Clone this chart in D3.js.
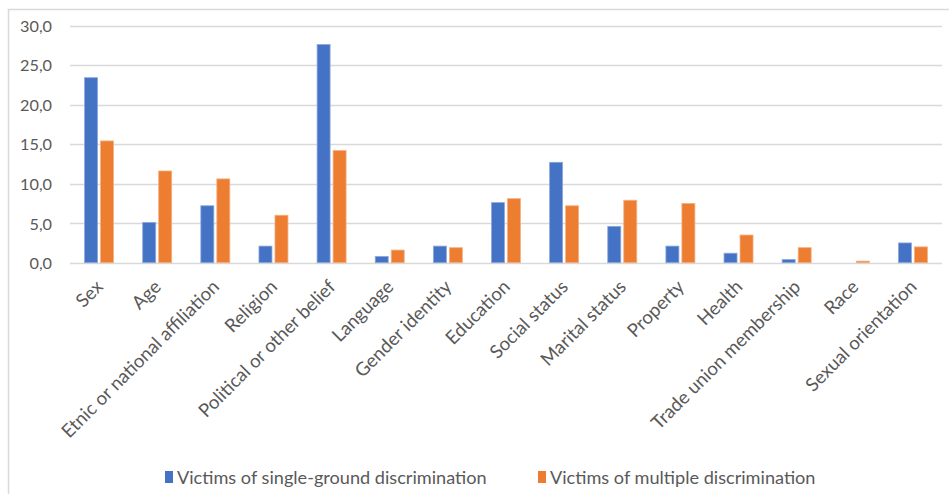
<!DOCTYPE html>
<html><head><meta charset="utf-8">
<script src="https://cdn.jsdelivr.net/npm/d3@7"></script>
<style>body{margin:0;background:#fff}svg{display:block}</style>
</head><body>
<svg id="c" width="949" height="494"></svg>
<script>
const categories = ["Sex","Age","Etnic or national affiliation","Religion","Political or other belief","Language","Gender identity","Education","Social status","Marital status","Property","Health","Trade union membership","Race","Sexual orientation"];
const singleGround = [23.4,5.1,7.2,2.1,27.6,0.8,2.1,7.6,12.7,4.6,2.1,1.2,0.4,0.0,2.5];
const multiple = [15.4,11.6,10.6,6.0,14.2,1.6,1.9,8.1,7.2,7.9,7.5,3.5,1.9,0.2,2.0];
const seriesNames = ["Victims of single-ground discrimination","Victims of multiple discrimination"];
const yTicks = [0,5,10,15,20,25,30];

const colors = ["#4472C4","#ED7D31"];
const font = "Lato, sans-serif";
const svg = d3.select("#c");
svg.append("rect").attr("x",8.5).attr("y",9.5).attr("width",990).attr("height",520)
  .attr("fill","#fff").attr("stroke","#D9D9D9").attr("stroke-width",1.5);

// helper: font size so that a text reaches a target width
function fitSize(str, target){
  const t = svg.append("text").style("font-family",font).style("font-size","20px").text(str);
  const w = t.node().getComputedTextLength(); t.remove();
  return 20*target/w;
}

const L=70,R=942,T=25.5,B=262.7;
const x = d3.scaleBand().domain(categories).range([L,R]).paddingInner(0).paddingOuter(0);
const y = d3.scaleLinear().domain([0,30]).range([B,T]);

const grid = svg.append("g");
grid.selectAll("line").data(yTicks).join("line")
  .attr("x1",L).attr("x2",R).attr("y1",d=>Math.round(y(d))+0.5).attr("y2",d=>Math.round(y(d))+0.5)
  .attr("stroke","#D9D9D9").attr("stroke-width",1.5);

const ySize = fitSize("30,0", 32);
const yAxis = d3.axisLeft(y).tickValues(yTicks).tickSize(0).tickPadding(0)
  .tickFormat(d=>d3.format(".1f")(d).replace(".",","));
const ya = svg.append("g").attr("transform","translate(52,0)").call(yAxis);
ya.select(".domain").remove();
ya.selectAll("text").attr("fill","#595959").attr("dy","0.36em").style("font-family",font).style("font-size",ySize+"px");

const bw = 13, gap = 1.5;
const data = [singleGround, multiple];
data.forEach((vals,si)=>{
  svg.append("g").selectAll("rect").data(vals).join("rect")
    .attr("x",(d,i)=> x(categories[i]) + x.bandwidth()/2 + (si===0 ? -gap-bw : gap))
    .attr("y",d=>y(d))
    .attr("width",bw)
    .attr("height",d=>Math.max(0,B-y(d)))
    .attr("fill",colors[si])
    .attr("stroke", si===0 ? "#8EA9DB" : "#F4B183")
    .attr("stroke-width",0.8);
});

// x labels
const xSize = fitSize("Etnic or national affiliation", 214);
const xa = svg.append("g");
xa.selectAll("text").data(categories).join("text")
  .attr("transform",d=>`translate(${x(d)+x.bandwidth()/2+5},${288}) rotate(-45)`)
  .attr("text-anchor","end")
  .attr("fill","#595959").style("font-family",font).style("font-size",xSize+"px")
  .text(d=>d);

// legend
const lSize = fitSize(seriesNames[0], 310);
const legX = [165,538];
seriesNames.forEach((n,i)=>{
  svg.append("rect").attr("x",legX[i]).attr("y",471).attr("width",8).attr("height",12).attr("fill",colors[i]);
  svg.append("text").attr("x",legX[i]+12).attr("y",477).attr("dy","0.36em")
    .attr("fill","#595959").style("font-family",font).style("font-size",lSize+"px").text(n);
});
</script>
</body></html>
